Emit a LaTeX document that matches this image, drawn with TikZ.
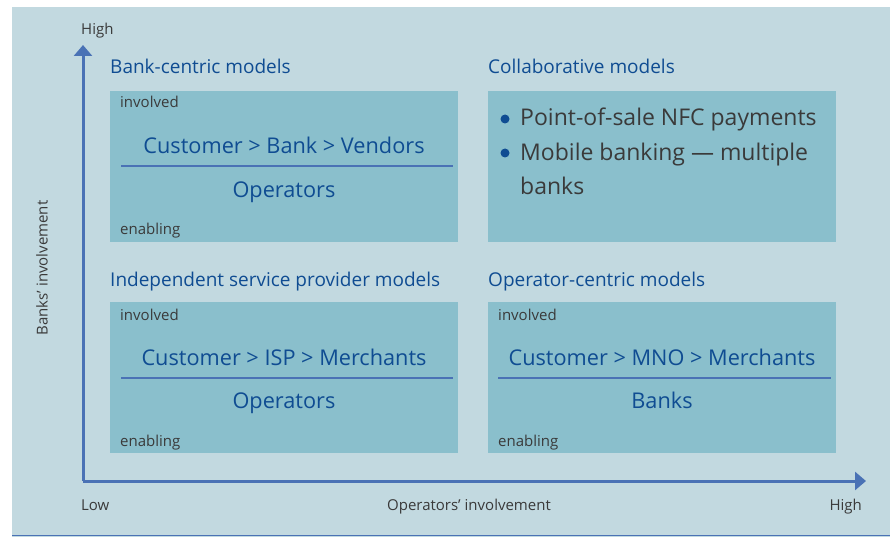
\documentclass[tikz,border=0pt]{standalone}
\usepackage{fontspec}
\setmainfont{Open Sans}
\usetikzlibrary{arrows.meta}
\definecolor{bgblue}{HTML}{C2D9E0}
\definecolor{boxblue}{HTML}{8ABFCC}
\definecolor{textblue}{HTML}{0F4C92}
\definecolor{axisblue}{HTML}{4A72B5}
\definecolor{textgray}{HTML}{3A3A3A}
\tikzset{
  box/.style={fill=boxblue, anchor=north west, minimum width=348pt, minimum height=151pt, inner sep=0pt},
  title/.style={textblue, anchor=base west, inner sep=0pt, font=\fontsize{19}{22}\selectfont},
  small/.style={textgray, anchor=base west, inner sep=0pt, font=\fontsize{15}{18}\selectfont},
  chain/.style={textblue, anchor=base, inner sep=0pt, font=\fontsize{21.7}{26}\selectfont},
  bullet/.style={textgray, anchor=base west, inner sep=0pt, font=\fontsize{23}{27}\selectfont},
  axislabel/.style={textgray, inner sep=0pt, font=\fontsize{15}{18}\selectfont},
  divider/.style={axisblue, line width=2.4pt},
}
\begin{document}
\begin{tikzpicture}[x=1pt,y=-1pt]
\useasboundingbox (0,0) rectangle (890,537);
\fill[bgblue] (12,7) rectangle (890,537);
\coordinate (bl) at (12,535.5); \coordinate (br) at (890,535.5);
\draw[axisblue, line width=1.2pt] (bl)--(br);
% axes
\coordinate (o) at (83,481); \coordinate (ytop) at (83,45); \coordinate (xend) at (866,481);
\draw[axisblue, line width=3pt, -{Triangle[width=18pt,length=11pt]}] (o)--(ytop);
\draw[axisblue, line width=3pt, -{Triangle[width=18pt,length=11pt]}] (o)--(xend);
\node[axislabel, anchor=base west] (yhigh) at (81,35) {High};
\node[axislabel, anchor=base west] (xlow) at (81,510) {Low};
\node[axislabel, anchor=base] (xlab) at (469,510) {Operators’ involvement};
\node[axislabel, anchor=base east] (xhigh) at (862,510) {High};
\node[axislabel, rotate=90] (ylab) at (42,268) {Banks’ involvement};
% bank-centric
\node[title] (t1) at (110,74) {Bank-centric models};
\node[box] (b1) at (110,91) {};
\node[small] at (120,108) {involved};
\node[small] at (120,234) {enabling};
\node[chain] (c1) at (284,154) {Customer > Bank > Vendors};
\coordinate (d1a) at (121,166); \coordinate (d1b) at (453,166);
\draw[divider] (d1a)--(d1b);
\node[chain] (e1) at (284,197) {Operators};
% collaborative
\node[title] (t2) at (488,74) {Collaborative models};
\node[box] (b2) at (488,91) {};
\fill[textblue] (505,119) circle (4.5pt); \fill[textblue] (505,153) circle (4.5pt);
\node[bullet] at (520,126) {Point-of-sale NFC payments};
\node[bullet] at (520,161) {Mobile banking — multiple};
\node[bullet] at (520,195) {banks};
% independent service provider
\node[title] (t3) at (110,286) {Independent service provider models};
\node[box] (b3) at (110,302) {};
\node[small] at (120,320) {involved};
\node[small] at (120,446) {enabling};
\node[chain] (c3) at (284,365) {Customer > ISP > Merchants};
\coordinate (d3a) at (121,378); \coordinate (d3b) at (453,378);
\draw[divider] (d3a)--(d3b);
\node[chain] (e3) at (284,408) {Operators};
% operator-centric
\node[title] (t4) at (488,286) {Operator-centric models};
\node[box] (b4) at (488,302) {};
\node[small] at (498,320) {involved};
\node[small] at (498,446) {enabling};
\node[chain] (c4) at (662,365) {Customer > MNO > Merchants};
\coordinate (d4a) at (498,378); \coordinate (d4b) at (831,378);
\draw[divider] (d4a)--(d4b);
\node[chain] (e4) at (662,408) {Banks};
\end{tikzpicture}
\end{document}
